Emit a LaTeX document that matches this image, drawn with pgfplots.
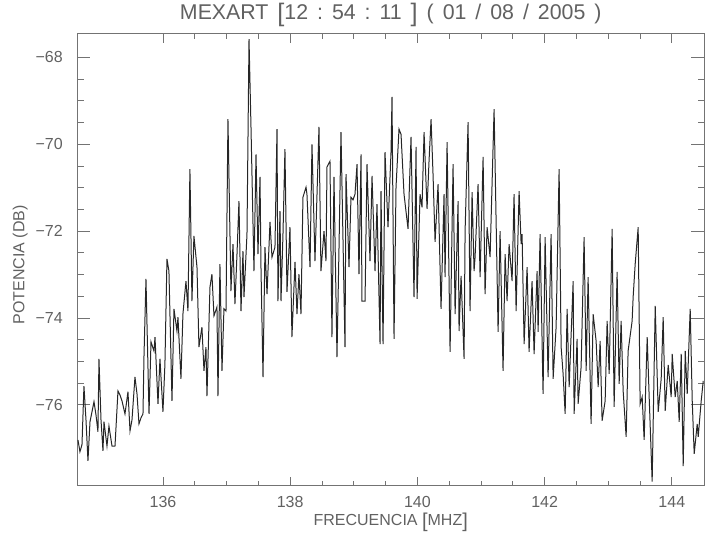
\documentclass[border=0pt]{standalone}
\usepackage{fontspec}
\setmainfont{Liberation Sans}
\usepackage{pgfplots}
\usepackage{pgfplotstable}
\pgfplotsset{compat=1.18}
\definecolor{txt}{gray}{0.38}
\definecolor{frm}{gray}{0.45}
\definecolor{ln}{gray}{0.15}
\newcommand{\g}{\hspace{0.42em}}
\pgfplotstableread{
x y
134.664 -76.81
134.695 -77.08
134.727 -76.92
134.758 -75.57
134.790 -76.35
134.821 -77.29
134.853 -76.39
134.916 -75.93
134.947 -76.23
134.978 -76.62
134.994 -74.94
135.026 -76.35
135.057 -77.06
135.073 -76.39
135.120 -76.95
135.151 -76.49
135.199 -76.95
135.246 -76.95
135.293 -75.68
135.324 -75.77
135.356 -75.91
135.403 -76.21
135.450 -75.70
135.482 -76.60
135.513 -76.35
135.560 -75.36
135.592 -75.75
135.623 -76.44
135.655 -76.30
135.686 -76.21
135.702 -74.87
135.733 -73.10
135.781 -76.21
135.812 -74.55
135.859 -74.76
135.875 -74.44
135.922 -75.98
135.953 -74.94
136.000 -76.16
136.031 -75.06
136.063 -72.64
136.094 -72.92
136.142 -75.91
136.173 -73.79
136.220 -74.30
136.236 -73.98
136.283 -75.40
136.314 -73.91
136.362 -73.15
136.393 -73.84
136.424 -70.57
136.456 -73.61
136.487 -72.11
136.535 -72.83
136.566 -74.67
136.613 -74.21
136.645 -75.22
136.676 -74.67
136.692 -75.80
136.739 -73.29
136.770 -72.99
136.802 -73.95
136.849 -73.75
136.865 -75.80
136.896 -72.76
136.928 -75.22
136.959 -73.79
136.991 -73.84
137.022 -69.42
137.069 -73.38
137.101 -72.30
137.132 -73.68
137.164 -72.53
137.195 -71.31
137.227 -73.84
137.258 -72.46
137.274 -73.52
137.321 -72.07
137.353 -67.58
137.384 -69.60
137.431 -72.92
137.463 -70.23
137.494 -72.53
137.526 -70.75
137.541 -72.83
137.573 -75.36
137.604 -72.37
137.636 -73.45
137.683 -71.79
137.714 -72.60
137.761 -72.37
137.793 -69.65
137.808 -73.61
137.840 -71.54
137.856 -73.61
137.887 -72.07
137.918 -70.11
137.950 -73.40
137.997 -71.91
138.028 -74.44
138.076 -72.71
138.107 -73.91
138.138 -72.99
138.170 -73.91
138.201 -71.22
138.249 -70.99
138.264 -71.15
138.312 -72.83
138.343 -70.00
138.390 -72.69
138.422 -71.15
138.453 -69.60
138.484 -72.92
138.532 -72.00
138.563 -72.69
138.579 -70.52
138.626 -70.39
138.657 -74.44
138.689 -70.75
138.736 -74.90
138.768 -72.37
138.799 -69.72
138.862 -74.67
138.878 -70.69
138.925 -72.83
138.956 -71.22
138.988 -71.28
139.019 -71.15
139.051 -70.46
139.082 -72.99
139.114 -70.23
139.129 -73.61
139.177 -73.61
139.208 -70.46
139.255 -72.69
139.287 -70.73
139.334 -72.92
139.365 -71.38
139.413 -74.60
139.428 -71.08
139.460 -74.60
139.491 -70.18
139.538 -71.91
139.586 -70.16
139.601 -68.91
139.633 -74.48
139.664 -70.99
139.711 -69.65
139.743 -69.77
139.790 -71.15
139.853 -71.95
139.900 -69.83
139.947 -73.52
139.979 -70.06
139.995 -73.56
140.042 -71.15
140.073 -71.45
140.105 -69.72
140.152 -71.49
140.183 -70.39
140.215 -69.42
140.246 -70.69
140.278 -72.25
140.325 -70.92
140.372 -73.79
140.419 -71.15
140.435 -73.06
140.467 -69.95
140.514 -74.78
140.561 -70.46
140.593 -73.91
140.640 -71.31
140.655 -74.30
140.687 -73.03
140.734 -74.94
140.750 -72.00
140.797 -69.49
140.828 -73.84
140.860 -71.10
140.891 -72.92
140.907 -72.60
140.954 -70.92
140.986 -73.06
141.033 -70.29
141.064 -73.45
141.096 -71.91
141.143 -72.60
141.206 -69.19
141.269 -74.32
141.300 -72.00
141.347 -75.22
141.379 -72.53
141.410 -73.61
141.442 -72.30
141.489 -73.15
141.520 -71.15
141.552 -73.84
141.599 -71.08
141.631 -72.30
141.646 -72.07
141.678 -74.60
141.725 -72.83
141.756 -74.78
141.803 -73.15
141.835 -74.83
141.882 -72.92
141.898 -74.32
141.929 -72.07
141.976 -75.75
142.008 -72.14
142.055 -75.36
142.102 -72.07
142.134 -75.40
142.181 -74.21
142.228 -70.57
142.260 -74.67
142.291 -75.29
142.323 -76.21
142.354 -73.79
142.386 -75.59
142.449 -73.15
142.464 -76.21
142.511 -74.48
142.527 -75.98
142.574 -75.13
142.621 -72.14
142.653 -75.22
142.684 -73.06
142.731 -76.44
142.763 -73.91
142.810 -74.53
142.842 -75.59
142.873 -74.53
142.904 -76.37
142.952 -75.91
142.983 -74.07
143.015 -75.29
143.062 -71.95
143.093 -76.05
143.140 -72.94
143.172 -75.52
143.203 -74.07
143.235 -75.68
143.282 -76.74
143.313 -74.76
143.376 -74.07
143.392 -73.52
143.424 -72.76
143.471 -71.91
143.502 -75.98
143.534 -75.82
143.565 -76.81
143.613 -74.44
143.644 -75.82
143.691 -77.77
143.739 -73.72
143.786 -76.16
143.833 -75.40
143.864 -73.98
143.896 -76.14
143.943 -75.08
143.990 -75.82
144.006 -74.83
144.053 -75.82
144.085 -75.45
144.116 -76.39
144.148 -74.83
144.179 -77.41
144.211 -74.76
144.242 -75.75
144.258 -75.06
144.289 -73.79
144.321 -75.91
144.352 -77.13
144.399 -76.44
144.415 -76.74
144.462 -75.91
144.494 -75.45
}\spec
\begin{document}
\begin{tikzpicture}
\begin{axis}[
  name=ax,
  scale only axis,
  width=469.9pt, height=339pt,
  xmin=134.656, xmax=144.506,
  ymin=-77.87, ymax=-67.46,
  xtick={136,138,140,142,144},
  xticklabels={136,138,140,142,144},
  ytick={-76,-74,-72,-70,-68},
  yticklabels={−76,−74,−72,−70,−68},
  minor x tick num=3,
  minor y tick num=3,
  tick align=inside,
  major tick length=9.4pt,
  minor tick length=4.7pt,
  xtick style={/pgfplots/major tick length=6.8pt,/pgfplots/minor tick length=3.4pt},
  axis line style={frm, line width=0.75pt},
  every tick/.style={frm, line width=0.6pt},
  xticklabel style={font=\fontsize{12}{14}\selectfont, text=txt, yshift=-4pt},
  yticklabel style={font=\fontsize{12}{14}\selectfont, text=txt, xshift=-7.5pt},
  title={MEXART\g{}\raisebox{-0.1em}{\fontsize{19}{19}\selectfont[}12\g:\g54\g:\g11\g\raisebox{-0.1em}{\fontsize{19}{19}\selectfont]}\g(\g01\g/\g08\g/\g2005\g)},
  every axis title/.style={at={(axis description cs:0.5,1)}, anchor=center, yshift=14.5pt, font=\fontsize{16}{18}\selectfont, text=txt},
  xlabel={FRECUENCIA \raisebox{-0.1em}{\fontsize{15}{15}\selectfont[}MHZ\raisebox{-0.1em}{\fontsize{15}{15}\selectfont]}},
  every axis x label/.style={at={(axis description cs:0.5,0)}, anchor=center, yshift=-27pt, font=\fontsize{12}{14}\selectfont, text=txt},
  ylabel={POTENCIA (DB)},
  every axis y label/.style={at={(axis description cs:0,0.5)}, xshift=-43pt, yshift=-3.75pt, rotate=90, anchor=center, font=\fontsize{12}{14}\selectfont, text=txt},
]
\addplot[ln, line width=0.75pt, mark=none] table[x=x,y=y]{\spec};
\end{axis}
\pgfresetboundingbox
\path[use as bounding box] ([xshift=-58.1pt,yshift=-36pt]ax.south west) rectangle ([xshift=1.5pt,yshift=25.5pt]ax.north east);
\end{tikzpicture}
\end{document}
